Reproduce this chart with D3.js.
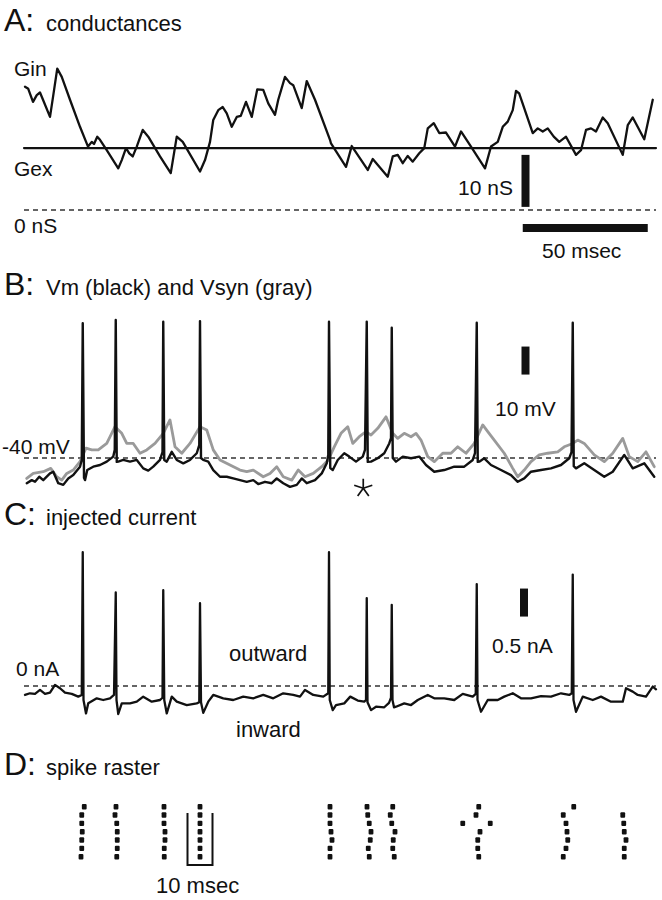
<!DOCTYPE html>
<html>
<head>
<meta charset="utf-8">
<script src="https://cdn.jsdelivr.net/npm/d3@7"></script>
<style>
  html,body{margin:0;padding:0;background:#fff;}
  svg{display:block;}
  text{font-family:"Liberation Sans",Arial,Helvetica,sans-serif;fill:#111;}
</style>
</head>
<body>
<svg id="fig" width="662" height="900"></svg>
<script>
// ---------- DATA (time in msec) ----------
// A: inhibitory conductance Gin [t, nS]
const ginTrace = [[0.4,23.7],[1.7,23.3],[3.6,20.8],[5.1,22.1],[6.4,22.6],[7.6,21.2],[10.4,17.9],[11.6,21.7],[13.3,27.2],[15.1,25.6],[18.4,21.2],[22.4,16.0],[25.6,12.2],[27.1,13.1],[28.0,12.7],[29.3,14.1],[30.4,13.5],[33.1,11.5],[37.7,8.0],[39.1,9.6],[40.8,11.9],[42.1,10.9],[43.5,10.3],[45.1,12.2],[47.5,15.4],[49.7,14.1],[54.4,10.3],[58.7,7.1],[61.1,14.1],[63.5,13.1],[70.4,7.4],[72.4,9.6],[74.4,13.1],[75.7,17.3],[77.7,19.2],[79.5,19.8],[81.1,18.6],[83.1,16.0],[85.1,17.9],[86.7,18.1],[88.8,20.8],[91.1,17.9],[93.3,23.2],[95.7,23.1],[97.7,20.5],[100.4,18.3],[101.7,21.2],[104.4,25.6],[106.4,24.4],[107.7,24.0],[111.1,19.6],[113.1,24.8],[116.4,21.2],[122.4,13.5],[122.8,12.8],[128.8,8.3],[131.1,12.3],[137.5,7.7],[139.5,9.8],[145.5,6.4],[147.5,10.3],[149.5,10.6],[151.5,9.0],[153.5,10.4],[155.5,9.3],[158.1,10.9],[160.1,11.9],[161.5,15.7],[163.9,16.7],[166.1,14.8],[168.8,14.9],[172.4,12.2],[174.8,15.1],[178.8,12.2],[184.4,8.0],[186.8,12.2],[189.5,13.1],[191.5,16.0],[193.5,17.0],[195.5,19.2],[196.8,22.9],[198.1,22.4],[203.5,14.8],[205.5,15.7],[207.5,15.1],[209.5,15.7],[211.9,14.1],[214.1,13.1],[216.8,14.1],[220.8,10.6],[222.8,11.5],[224.8,15.4],[226.8,15.7],[228.8,15.1],[231.5,17.8],[233.5,16.7],[239.5,10.6],[241.5,16.3],[243.5,17.8],[248.1,13.6],[251.5,21.2]];
// A: excitatory conductance Gex (constant) [t, nS]
const gexTrace = [[0,11.9],[252.8,11.9]];

// B: membrane potential Vm (black) [t, mV]
const vmTrace = [[1.1,-49.0],[3.1,-47.9],[4.4,-48.5],[6.1,-46.7],[7.7,-47.9],[10.4,-45.5],[11.7,-44.9],[13.7,-49.0],[15.7,-49.6],[17.7,-47.3],[19.7,-46.1],[22.4,-43.1],[23.1,-40.7],[23.5,8.1],[24.0,-47.1],[24.4,-47.9],[25.3,-44.3],[27.7,-43.1],[30.4,-42.5],[33.1,-41.3],[35.7,-39.5],[36.3,-37.1],[36.7,9.3],[37.1,-41.4],[37.7,-41.3],[39.7,-40.7],[42.4,-41.3],[45.1,-40.7],[47.7,-43.7],[49.7,-44.5],[51.7,-43.1],[54.4,-40.7],[55.4,-37.9],[55.7,8.7],[56.1,-40.7],[57.1,-41.3],[59.1,-37.8],[61.1,-40.7],[63.7,-41.9],[66.4,-40.7],[69.1,-38.3],[70.1,-35.4],[70.4,8.9],[70.8,-40.0],[71.7,-40.7],[73.7,-41.3],[75.7,-44.3],[78.4,-46.7],[81.1,-46.7],[83.7,-47.3],[86.4,-47.9],[89.1,-48.5],[91.7,-47.9],[93.7,-49.3],[96.4,-48.5],[99.1,-49.0],[101.1,-47.3],[103.7,-49.0],[106.4,-50.3],[109.1,-49.6],[111.1,-47.3],[113.1,-49.0],[116.4,-47.9],[119.1,-45.5],[121.1,-41.9],[121.7,-38.9],[122.0,8.7],[122.5,-43.6],[123.5,-44.3],[125.5,-40.7],[128.1,-38.3],[130.1,-39.5],[132.8,-41.3],[135.5,-39.5],[136.4,-37.1],[137.1,8.7],[137.5,-41.4],[138.8,-41.3],[141.5,-40.1],[144.1,-38.3],[146.1,-34.8],[146.8,-32.9],[147.1,6.5],[147.5,-40.0],[148.8,-41.3],[151.5,-39.5],[154.8,-40.1],[158.1,-39.5],[160.8,-42.5],[164.1,-44.9],[168.1,-44.3],[172.1,-43.1],[176.1,-43.1],[179.5,-40.7],[180.4,-38.3],[181.1,8.3],[181.5,-41.4],[182.1,-41.3],[184.1,-40.1],[186.8,-42.5],[190.8,-44.3],[194.8,-46.1],[197.5,-48.5],[200.1,-47.3],[202.8,-44.9],[206.8,-44.3],[210.8,-43.7],[214.8,-42.5],[218.1,-40.1],[219.0,-37.9],[219.5,8.3],[219.9,-42.9],[220.8,-43.7],[224.1,-41.9],[228.1,-44.3],[232.1,-46.7],[235.5,-44.9],[240.1,-38.9],[243.5,-43.7],[248.1,-41.9],[252.1,-46.7]];
// B: synaptic potential Vsyn (gray) [t, mV]
const vsynTrace = [[1.1,-47.3],[3.7,-45.5],[7.7,-44.9],[10.7,-43.7],[13.1,-46.7],[15.1,-47.9],[17.1,-45.5],[19.7,-44.3],[22.4,-41.3],[24.8,-36.5],[27.1,-37.1],[29.7,-37.1],[33.1,-34.8],[36.4,-28.8],[39.1,-31.2],[41.1,-34.8],[43.7,-34.8],[46.4,-38.3],[49.1,-37.1],[52.4,-34.8],[55.7,-31.2],[58.4,-26.4],[60.4,-36.0],[63.1,-38.3],[66.4,-34.8],[70.4,-28.8],[73.1,-30.0],[75.7,-37.1],[78.4,-40.7],[82.4,-42.5],[86.4,-44.3],[89.1,-44.9],[91.7,-44.3],[95.7,-46.7],[98.4,-45.5],[101.1,-43.1],[103.7,-46.7],[107.1,-47.9],[109.7,-44.3],[112.4,-46.7],[115.7,-45.5],[119.1,-43.1],[121.7,-40.7],[124.1,-36.0],[126.8,-31.2],[129.5,-28.8],[131.5,-34.8],[134.1,-32.4],[136.8,-30.6],[138.8,-31.8],[141.5,-29.4],[144.8,-25.3],[147.5,-31.2],[149.5,-33.0],[152.1,-31.2],[154.8,-32.4],[156.8,-31.2],[158.8,-33.6],[161.5,-39.5],[164.1,-41.3],[167.5,-38.3],[170.8,-38.3],[173.5,-36.0],[176.8,-38.3],[180.1,-34.8],[183.5,-28.2],[185.5,-30.6],[188.1,-33.6],[192.1,-38.3],[195.5,-43.7],[197.5,-46.7],[200.1,-44.3],[202.8,-41.3],[206.1,-38.9],[209.5,-38.3],[213.5,-37.8],[216.1,-36.0],[219.5,-34.8],[221.5,-33.6],[224.1,-34.8],[228.1,-38.9],[232.1,-41.3],[235.5,-38.3],[239.5,-33.0],[242.1,-39.5],[245.5,-41.3],[248.8,-37.8],[252.1,-43.1]];

// C: injected current [t, nA]
const currentTrace = [[0.4,-0.16],[2.4,-0.13],[4.4,-0.14],[6.4,-0.07],[8.4,-0.14],[10.4,-0.12],[12.4,0.02],[14.4,-0.04],[16.4,-0.12],[19.1,-0.14],[21.7,-0.19],[23.1,-0.16],[23.5,2.39],[23.8,-0.25],[24.8,-0.49],[25.7,-0.31],[29.1,-0.22],[31.7,-0.25],[34.4,-0.22],[36.0,-0.16],[36.7,1.67],[37.0,-0.25],[37.7,-0.50],[39.1,-0.31],[42.4,-0.31],[45.1,-0.28],[47.7,-0.19],[51.1,-0.28],[54.4,-0.25],[55.4,-0.21],[55.7,1.71],[56.1,-0.25],[57.1,-0.49],[59.1,-0.19],[61.1,-0.28],[65.1,-0.34],[69.1,-0.31],[70.1,-0.29],[70.4,1.48],[70.8,-0.29],[71.7,-0.48],[73.7,-0.28],[75.7,-0.16],[79.7,-0.22],[83.7,-0.25],[87.7,-0.19],[91.7,-0.22],[95.7,-0.16],[99.7,-0.22],[103.7,-0.13],[107.7,-0.16],[110.4,-0.19],[112.4,-0.07],[115.7,-0.16],[119.7,-0.19],[121.7,-0.13],[122.0,2.39],[122.3,-0.25],[123.5,-0.43],[124.8,-0.34],[128.1,-0.31],[130.5,-0.19],[133.5,-0.26],[136.1,-0.28],[136.8,-0.25],[137.1,1.57],[137.4,-0.29],[138.8,-0.43],[140.8,-0.37],[144.1,-0.38],[146.0,-0.30],[146.8,-0.21],[147.1,1.45],[147.4,-0.25],[148.0,-0.38],[148.8,-0.37],[152.1,-0.31],[154.8,-0.34],[157.5,-0.25],[161.5,-0.16],[164.1,-0.22],[168.1,-0.22],[172.1,-0.25],[175.5,-0.14],[179.5,-0.19],[180.7,-0.14],[181.1,1.82],[181.4,-0.25],[182.8,-0.46],[185.5,-0.25],[189.5,-0.25],[192.1,-0.19],[195.5,-0.13],[198.8,-0.22],[202.8,-0.22],[206.8,-0.18],[210.8,-0.19],[214.8,-0.13],[218.1,-0.16],[219.1,-0.13],[219.5,1.99],[219.8,-0.25],[220.8,-0.46],[223.5,-0.19],[227.5,-0.25],[230.8,-0.19],[234.8,-0.28],[239.5,-0.28],[240.8,-0.04],[243.5,-0.10],[245.5,-0.16],[248.8,-0.19],[251.5,-0.01],[252.8,-0.06]];

// D: spike raster, spike times (msec) for each of 7 trials
const rasterTrials = [
  [24.1,36.8,56.0,70.4,122.4,137.2,147.5,181.9,219.9],
  [23.1,36.4,56.0,70.4,122.4,137.5,146.5,180.8,215.7,239.5],
  [23.1,37.1,56.0,70.4,122.4,138.1,147.1,175.5,186.5,216.8,239.9],
  [23.3,37.3,56.4,70.4,122.8,138.8,148.4,182.4,217.2,240.1],
  [23.1,37.3,56.4,70.4,123.2,138.5,147.7,181.5,217.5,240.8],
  [23.1,37.3,56.1,70.4,122.4,137.7,147.5,181.5,216.8,240.1],
  [22.8,37.1,56.1,70.4,122.4,138.1,148.1,181.9,215.7,240.1]
];

// reference levels & scale bars
const zeroNS = 0, restMV = -40, zeroNA = 0;
const timeBar = {t0:199.5, t1:249.5, label:"50 msec"};
const gBar = {t:200.6, v0:0.6, v1:10.6, label:"10 nS"};
const vBar = {t:200.6, v0:-10.2, v1:-0.2, label:"10 mV"};
const iBar = {t:200.0, v0:1.24, v1:1.74, label:"0.5 nA"};
const rasterBar = {t0:65.4, t1:75.4, label:"10 msec"};
const asterisk = {t:135.7, v:-50.8};
const tDomain = [0, 250];

// ---------- DRAWING ----------
const svg = d3.select("#fig");
const x = d3.scaleLinear().domain(tDomain).range([24, 649]);
const yA = d3.scaleLinear().domain([0, 10]).range([210, 158]);
const yB = d3.scaleLinear().domain([-40, -30]).range([458, 430]);
const yC = d3.scaleLinear().domain([0, 0.5]).range([686, 658]);
const yD = d3.scalePoint().domain(d3.range(rasterTrials.length)).range([806.7, 856.7]);

function trace(data, y, stroke, width) {
  svg.append("path").datum(data)
    .attr("d", d3.line().x(d => x(d[0])).y(d => y(d[1])))
    .attr("fill", "none").attr("stroke", stroke).attr("stroke-width", width)
    .attr("stroke-linejoin", "round").attr("stroke-linecap", "round");
}
function dashed(y, v) {
  svg.append("line").attr("x1", x(0)).attr("x2", x(252.8))
    .attr("y1", y(v)).attr("y2", y(v))
    .attr("stroke", "#333").attr("stroke-width", 1.6).attr("stroke-dasharray", "5,4");
}
function vbar(b, y) {
  svg.append("rect").attr("x", x(b.t) - 4).attr("width", 8)
    .attr("y", y(b.v1)).attr("height", y(b.v0) - y(b.v1)).attr("fill", "#111");
}
function label(txt, px, py, size, anchor) {
  svg.append("text").attr("x", px).attr("y", py).attr("font-size", size)
    .attr("text-anchor", anchor || "start").text(txt);
}
function heading(letter, txt, py) {
  label(letter + ":", 4, py, 32);
  label(txt, 46, py, 22);
}

// Panel A
heading("A", "conductances", 31);
trace(gexTrace, yA, "#111", 2.2);
trace(ginTrace, yA, "#111", 2.3);
dashed(yA, zeroNS);
vbar(gBar, yA);
svg.append("rect").attr("x", x(timeBar.t0)).attr("width", x(timeBar.t1) - x(timeBar.t0))
  .attr("y", 224).attr("height", 8).attr("fill", "#111");
label("Gin", 14, 76, 21);
label("Gex", 14, 176, 21);
label("0 nS", 14, 233, 21);
label(gBar.label, 513, 195, 21, "end");
label(timeBar.label, 542, 258, 21);

// Panel B
heading("B", "Vm (black) and Vsyn (gray)", 295);
dashed(yB, restMV);
trace(vsynTrace, yB, "#9a9a9a", 2.8);
trace(vmTrace, yB, "#111", 2.4);
vbar(vBar, yB);
label("-40 mV", 2, 454, 21);
label(vBar.label, 495, 416, 21);
const ax = x(asterisk.t), ay = yB(asterisk.v);
for (let k = 0; k < 5; k++) {
  const a = -Math.PI / 2 + k * 2 * Math.PI / 5;
  svg.append("line").attr("x1", ax).attr("y1", ay)
    .attr("x2", ax + 9.5 * Math.cos(a)).attr("y2", ay + 9.5 * Math.sin(a))
    .attr("stroke", "#111").attr("stroke-width", 1.7);
}

// Panel C
heading("C", "injected current", 525);
dashed(yC, zeroNA);
trace(currentTrace, yC, "#111", 2.3);
vbar(iBar, yC);
label("0 nA", 16, 676, 21);
label("outward", 229, 661, 22);
label("inward", 236, 737, 22);
label(iBar.label, 492, 653, 21);

// Panel D
heading("D", "spike raster", 775);
rasterTrials.forEach((spikes, i) => {
  svg.selectAll(null).data(spikes).enter().append("rect")
    .attr("x", d => x(d) - 2.4).attr("y", yD(i) - 2.7)
    .attr("width", 4.8).attr("height", 5.4).attr("rx", 1)
    .attr("fill", "#111");
});
svg.append("path")
  .attr("d", `M${x(rasterBar.t0)},813 V865 H${x(rasterBar.t1)} V813`)
  .attr("fill", "none").attr("stroke", "#111").attr("stroke-width", 2);
label(rasterBar.label, 156, 893, 22);
</script>
</body>
</html>
